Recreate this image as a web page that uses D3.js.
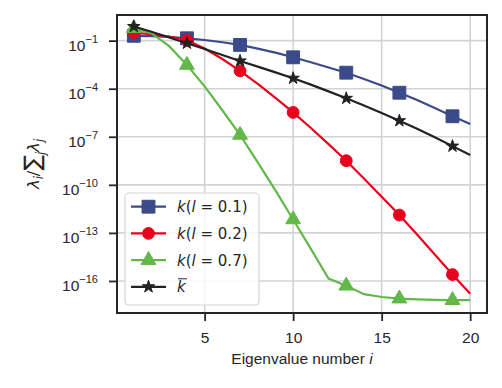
<!DOCTYPE html>
<html>
<head>
<meta charset="utf-8">
<script src="https://cdn.jsdelivr.net/npm/d3@7"></script>
<style>
  body { margin: 0; background: #fff; }
  text { font-family: 'Liberation Sans', Arial, sans-serif; fill: #262626; }
  .math { font-family: 'DejaVu Sans', sans-serif; }
</style>
</head>
<body>
<div class="chartPlaceholder"></div>
<script>
const WIDTH = 502;
const HEIGHT = 388;
const MARGINS = { TOP: 15, LEFT: 117, BOTTOM: 75, RIGHT: 15 };

// eigenvalue number i = 1..20
const eigenNumbers = d3.range(1, 21);

// normalised eigenvalues
const kl01 = [2.0e-1, 1.9e-1, 1.7e-1, 1.4e-1, 1.1e-1, 7.9e-2, 5.4e-2, 3.2e-2, 1.8e-2, 9.1e-3,
              4.5e-3, 2.1e-3, 1.0e-3, 4.0e-4, 1.6e-4, 5.6e-5, 2.0e-5, 6.3e-6, 1.9e-6, 6.3e-7];
const kl02 = [3.2e-1, 2.5e-1, 1.8e-1, 1.05e-1, 3.2e-2, 7.1e-3, 1.3e-3, 2.0e-4, 2.7e-5, 3.3e-6,
              3.5e-7, 3.5e-8, 3.2e-9, 2.5e-10, 1.8e-11, 1.3e-12, 7.9e-14, 4.5e-15, 2.5e-16, 1.6e-17];
const kl07 = [6.0e-1, 2.8e-1, 4.5e-2, 3.0e-3, 1.4e-4, 4.5e-6, 1.3e-7, 2.5e-9, 4.5e-11, 6.9e-13,
              1.0e-14, 1.4e-16, 5.0e-17, 1.5e-17, 1.0e-17, 7.9e-18, 7.1e-18, 6.6e-18, 6.3e-18, 6.3e-18];
const kbar = [7.6e-1, 3.55e-1, 1.58e-1, 6.9e-2, 3.0e-2, 1.26e-2, 5.4e-3, 2.4e-3, 1.05e-3, 4.5e-4,
              1.8e-4, 6.8e-5, 2.5e-5, 8.9e-6, 3.0e-6, 1.0e-6, 3.2e-7, 9.3e-8, 2.6e-8, 7.2e-9];

const xTicks = [5, 10, 15, 20];
const yTickExponents = [-1, -4, -7, -10, -13, -16];

const series = [
    { values: kl01, label: '0.1', color: '#3a4a8a', shape: d3.symbolSquare, size: 165 },
    { values: kl02, label: '0.2', color: '#e8001c', shape: d3.symbolCircle, size: 110 },
    { values: kl07, label: '0.7', color: '#62b849', shape: d3.symbolTriangle, size: 95 },
    { values: kbar, label: 'bar', color: '#222222', shape: d3.symbolStar, size: 48 }
];

const plotLeft = MARGINS.LEFT;
const plotRight = WIDTH - MARGINS.RIGHT;
const plotTop = MARGINS.TOP;
const plotBottom = HEIGHT - MARGINS.BOTTOM;

let svg = d3
    .select('.chartPlaceholder')
    .append('svg')
    .attr('width', WIDTH)
    .attr('height', HEIGHT);

let xScale = d3.scaleLinear().domain([0.05, 20.95]).range([plotLeft, plotRight]);
let yScale = d3.scaleLog().domain([1e-18, Math.pow(10, 0.6)]).range([plotBottom, plotTop]);

// 1. grid
let grid = svg.append('g').attr('class', 'grid');
grid.selectAll('.vgrid')
    .data(xTicks)
    .enter()
    .append('line')
    .attr('x1', d => xScale(d))
    .attr('x2', d => xScale(d))
    .attr('y1', plotTop)
    .attr('y2', plotBottom)
    .attr('stroke', '#d3d3d3')
    .attr('stroke-width', 1.6);

grid.selectAll('.hgrid')
    .data(yTickExponents)
    .enter()
    .append('line')
    .attr('x1', plotLeft)
    .attr('x2', plotRight)
    .attr('y1', d => yScale(Math.pow(10, d)))
    .attr('y2', d => yScale(Math.pow(10, d)))
    .attr('stroke', '#d3d3d3')
    .attr('stroke-width', 1.6);

// 2. lines + markers
let line = d3.line()
    .x((d, i) => xScale(eigenNumbers[i]))
    .y(d => yScale(d));

series.forEach(s => {
    svg.append('path')
        .datum(s.values)
        .attr('d', line)
        .attr('fill', 'none')
        .attr('stroke', s.color)
        .attr('stroke-width', 2.2);

    // marker on every third point
    svg.selectAll(null)
        .data(s.values.filter((d, i) => i % 3 === 0))
        .enter()
        .append('path')
        .attr('d', d3.symbol().type(s.shape).size(s.size))
        .attr('transform', (d, i) => `translate(${xScale(eigenNumbers[i * 3])}, ${yScale(d)})`)
        .attr('fill', s.color)
        .attr('stroke', s.color)
        .attr('stroke-width', 1);
});

// 3. axes
let xAxis = d3.axisBottom(xScale).tickValues(xTicks).tickSize(8).tickPadding(11);
let xg = svg.append('g')
    .attr('transform', `translate(0, ${plotBottom})`)
    .call(xAxis);
xg.select('.domain').remove();
xg.selectAll('line').attr('stroke', '#262626').attr('stroke-width', 1.8);
xg.selectAll('text')
    .attr('font-family', "'Liberation Sans', Arial, sans-serif")
    .attr('font-size', 15.5)
    .attr('fill', '#262626');

let yAxis = d3.axisLeft(yScale)
    .tickValues(yTickExponents.map(e => Math.pow(10, e)))
    .tickSize(8)
    .tickFormat('');
let yg = svg.append('g')
    .attr('transform', `translate(${plotLeft}, 0)`)
    .call(yAxis);
yg.select('.domain').remove();
yg.selectAll('line').attr('stroke', '#262626').attr('stroke-width', 1.8);
yg.selectAll('.tick').each(function (d) {
    let exp = Math.round(Math.log10(d));
    let t = d3.select(this).append('text')
        .attr('x', -19)
        .attr('y', 9.5)
        .attr('text-anchor', 'end')
        .attr('font-size', 15.5)
        .attr('fill', '#262626');
    t.append('tspan').text('10');
    t.append('tspan')
        .attr('dy', -7.5)
        .attr('font-size', 11)
        .text('\u2212' + Math.abs(exp));
});

// frame
svg.append('rect')
    .attr('x', plotLeft)
    .attr('y', plotTop)
    .attr('width', plotRight - plotLeft)
    .attr('height', plotBottom - plotTop)
    .attr('fill', 'none')
    .attr('stroke', '#262626')
    .attr('stroke-width', 2);

// axis labels
let xLabel = svg.append('text')
    .attr('x', (plotLeft + plotRight) / 2)
    .attr('y', 364)
    .attr('text-anchor', 'middle')
    .attr('font-size', 15.5);
xLabel.append('tspan').text('Eigenvalue number ');
xLabel.append('tspan').attr('font-style', 'italic').text('i');

let yLabel = svg.append('text')
    .attr('class', 'math')
    .attr('transform', `translate(39, ${(plotTop + plotBottom) / 2}) rotate(-90)`)
    .attr('text-anchor', 'middle')
    .attr('font-size', 16.5);
yLabel.append('tspan').attr('font-style', 'italic').text('\u03bb');
yLabel.append('tspan').attr('font-style', 'italic').attr('font-size', 11.5).attr('dy', 4).text('i');
yLabel.append('tspan').attr('dy', -4).text('/');
yLabel.append('tspan').attr('font-size', 23).attr('dy', 1).text('\u2211');
yLabel.append('tspan').attr('font-style', 'italic').attr('font-size', 11.5).attr('dy', 5).text('j');
yLabel.append('tspan').attr('font-style', 'italic').attr('dy', -6).text('\u03bb');
yLabel.append('tspan').attr('font-style', 'italic').attr('font-size', 11.5).attr('dy', 4).text('j');

// 4. legend
let legend = svg.append('g').attr('class', 'legend');
legend.append('rect')
    .attr('x', 125)
    .attr('y', 193)
    .attr('width', 134)
    .attr('height', 112)
    .attr('rx', 4)
    .attr('fill', 'rgba(255,255,255,0.8)')
    .attr('stroke', '#d6d6d6')
    .attr('stroke-width', 1.2);

series.forEach((s, i) => {
    let cy = 206.7 + i * 26.7;
    let row = legend.append('g');
    row.append('line')
        .attr('x1', 131)
        .attr('x2', 166)
        .attr('y1', cy)
        .attr('y2', cy)
        .attr('stroke', s.color)
        .attr('stroke-width', 2.2);
    row.append('path')
        .attr('d', d3.symbol().type(s.shape).size(s.size))
        .attr('transform', `translate(148.5, ${cy})`)
        .attr('fill', s.color)
        .attr('stroke', s.color)
        .attr('stroke-width', 1);

    let t = row.append('text')
        .attr('class', 'math')
        .attr('x', 177)
        .attr('y', cy + 5.5)
        .attr('font-size', 15);
    if (s.label === 'bar') {
        t.append('tspan').attr('font-style', 'italic').text('k');
        row.append('line')
            .attr('x1', 178)
            .attr('x2', 187)
            .attr('y1', cy - 8)
            .attr('y2', cy - 8)
            .attr('stroke', '#262626')
            .attr('stroke-width', 1);
    } else {
        t.append('tspan').attr('font-style', 'italic').text('k');
        t.append('tspan').text('(');
        t.append('tspan').attr('font-style', 'italic').text('l');
        t.append('tspan').text(' = ' + s.label + ')');
    }
});
</script>
</body>
</html>
